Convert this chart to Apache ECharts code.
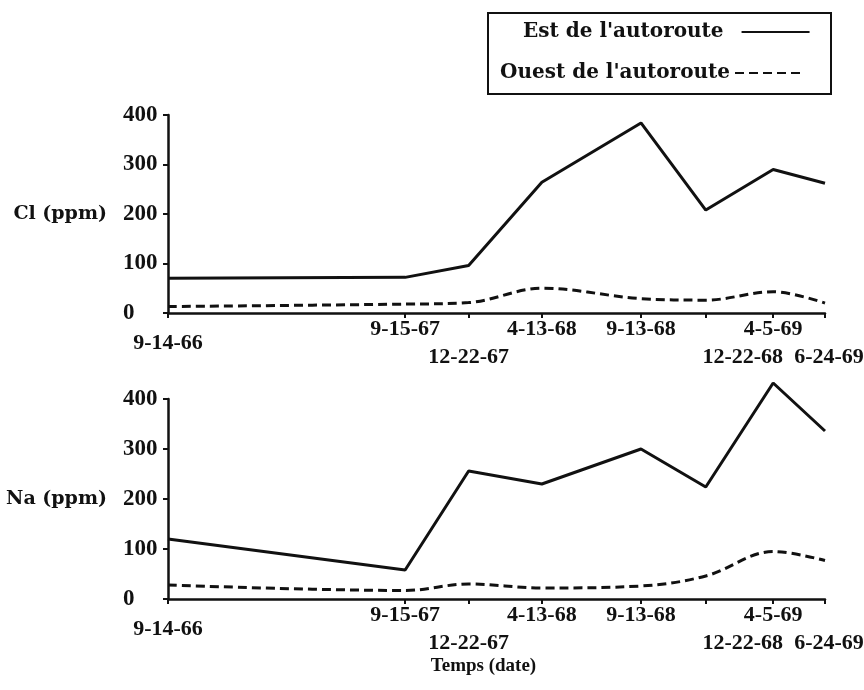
<!DOCTYPE html>
<html>
<head>
<meta charset="utf-8">
<script src="https://cdn.jsdelivr.net/npm/echarts@6/dist/echarts.min.js"></script>
<style>
  html, body { margin: 0; padding: 0; background: #fff; }
  #chart { width: 864px; height: 690px; }
</style>
</head>
<body>
<div id="chart"></div>
<script>
// Sampling dates (month-day-year) and measured concentrations, ppm
const dateLabels = ['9-14-66', '9-15-67', '12-22-67', '4-13-68', '9-13-68', '12-22-68', '4-5-69', '6-24-69'];
const clEst   = [70, 72, 96, 264, 384, 208, 290, 262];
const clOuest = [13, 18, 21, 50, 29, 26, 43, 20];
const naEst   = [120, 58, 256, 230, 300, 224, 432, 336];
const naOuest = [28, 17, 30, 22, 26, 46, 95, 77];
const yTicks  = [0, 100, 200, 300, 400];

const nameEst = "Est de l'autoroute";
const nameOuest = "Ouest de l'autoroute";

// Dates become day counts (UTC) so the x axis is a plain linear scale
const DAY = 86400000;
function toDay(s) {
  const [m, d, y] = s.split('-').map(Number);
  return Date.UTC(1900 + y, m - 1, d) / DAY;
}
const days = dateLabels.map(toDay);

// Which row each date label sits on under the axis
const labelRow = ['mid', 'up', 'low', 'up', 'up', 'lowShift', 'up', 'lowEnd'];

const numFont = { fontFamily: 'Liberation Serif', fontWeight: 'bold', fontSize: 23, color: '#111' };
const dateFont = Object.assign({}, numFont, { fontSize: 22 });
const wordFont = { fontFamily: 'DejaVu Serif', fontWeight: 'bold', fontSize: 19, color: '#111' };

function richRows(base) {
  return {
    up:       Object.assign({}, dateFont, { padding: [0, 0, 0, 0] }),
    mid:      Object.assign({}, dateFont, { padding: [base, 0, 0, 0] }),
    low:      Object.assign({}, dateFont, { padding: [base * 2, 0, 0, 0] }),
    lowShift: Object.assign({}, dateFont, { padding: [base * 2, 0, 0, 74] }),
    lowEnd:   Object.assign({}, dateFont, { padding: [base * 2, 0, 0, 8] })
  };
}

function xAxisFor(gridIndex, base, extra) {
  return Object.assign({
    type: 'value',
    gridIndex: gridIndex,
    min: days[0],
    max: days[days.length - 1],
    splitLine: { show: false },
    axisLine: { lineStyle: { color: '#111', width: 2.5 } },
    axisTick: { customValues: days, length: 5, lineStyle: { color: '#111', width: 2 } },
    axisLabel: Object.assign({}, dateFont, {
      customValues: days,
      margin: 5,
      formatter: function (value) {
        const i = days.indexOf(value);
        return i < 0 ? '' : '{' + labelRow[i] + '|' + dateLabels[i] + '}';
      },
      rich: richRows(base)
    })
  }, extra || {});
}

function yAxisFor(gridIndex, name) {
  return {
    type: 'value',
    gridIndex: gridIndex,
    min: yTicks[0],
    max: yTicks[yTicks.length - 1],
    interval: 100,
    name: name,
    nameLocation: 'middle',
    nameRotate: 0,
    nameGap: 61,
    nameTextStyle: Object.assign({}, wordFont, { align: 'right', verticalAlign: 'middle' }),
    splitLine: { show: false },
    axisLine: { show: true, lineStyle: { color: '#111', width: 2.5 } },
    axisTick: { show: true, length: 5, lineStyle: { color: '#111', width: 2 } },
    axisLabel: Object.assign({}, numFont, { align: 'left', margin: 45 })
  };
}

function lineSeries(name, values, xi, dashed) {
  return {
    name: name,
    type: 'line',
    xAxisIndex: xi,
    yAxisIndex: xi,
    data: values.map((v, i) => [days[i], v]),
    symbol: 'none',
    clip: false,
    smooth: dashed ? 0.35 : false,
    lineStyle: { color: '#111', width: 3, type: dashed ? [9, 5] : 'solid' },
    itemStyle: { color: '#111' },
    z: 3
  };
}

const legendBase = {
  orient: 'horizontal',
  align: 'right',
  padding: 0,
  itemWidth: 68,
  itemHeight: 14,
  selectedMode: false,
  itemStyle: { opacity: 0 }
};

const option = {
  animation: false,
  backgroundColor: '#fff',
  grid: [
    { left: 168, right: 39, top: 115, height: 198, outerBoundsMode: 'none' },
    { left: 168, right: 39, top: 399, height: 200, outerBoundsMode: 'none' }
  ],
  xAxis: [
    xAxisFor(0, 14),
    xAxisFor(1, 14, {
      name: 'Temps (date)',
      nameLocation: 'middle',
      nameGap: 58,
      nameTextStyle: { fontFamily: 'Liberation Serif', fontWeight: 'bold', fontSize: 19, color: '#111', padding: [0, 26, 0, 0] }
    })
  ],
  yAxis: [
    yAxisFor(0, 'Cl (ppm)'),
    yAxisFor(1, 'Na (ppm)')
  ],
  legend: [
    Object.assign({}, legendBase, {
      data: [nameEst], left: 523, top: 22,
      textStyle: Object.assign({}, wordFont, { fontSize: 20, padding: [0, 13, 0, 0] })
    }),
    Object.assign({}, legendBase, {
      data: [nameOuest], left: 500, top: 63,
      textStyle: Object.assign({}, wordFont, { fontSize: 20 })
    })
  ],
  graphic: [{
    type: 'rect',
    shape: { x: 488, y: 13, width: 343, height: 81 },
    style: { fill: 'none', stroke: '#111', lineWidth: 2 },
    silent: true
  }],
  series: [
    lineSeries(nameEst, clEst, 0, false),
    lineSeries(nameOuest, clOuest, 0, true),
    lineSeries(nameEst, naEst, 1, false),
    lineSeries(nameOuest, naOuest, 1, true)
  ]
};

const chart = echarts.init(document.getElementById('chart'), null, { renderer: 'canvas' });
chart.setOption(option);
</script>
</body>
</html>
